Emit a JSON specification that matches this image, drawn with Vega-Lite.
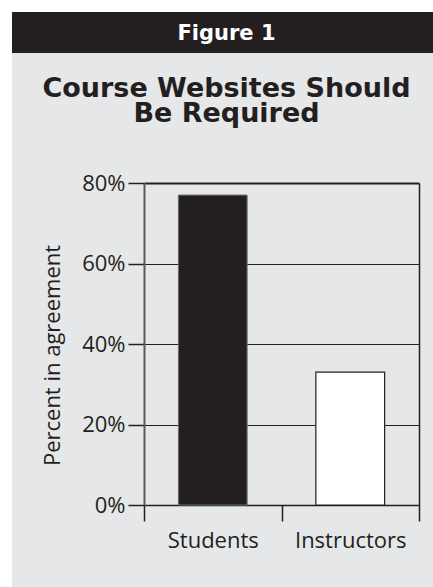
{
  "$schema": "https://vega.github.io/schema/vega-lite/v6.json",
  "background": "white",
  "padding": {"left": 12, "top": 12, "right": 0, "bottom": 0},
  "spacing": 0,
  "config": {
    "font": "Open Sans",
    "view": {"stroke": null},
    "concat": {"spacing": 0}
  },
  "vconcat": [
    {
      "width": 421,
      "height": 41,
      "view": {"fill": "#231f20", "stroke": null},
      "data": {"values": [{"heading": "Figure 1"}]},
      "mark": {"type": "text", "font": "DejaVu Sans", "fontWeight": "bold", "fontSize": 21, "color": "white", "dx": 4, "dy": 1},
      "encoding": {"text": {"field": "heading", "type": "nominal"}}
    },
    {
      "width": 421,
      "height": 534,
      "view": {"fill": "#e6e7e8", "stroke": null},
      "title": {
        "text": ["Course Websites Should", "Be Required"],
        "font": "DejaVu Sans",
        "fontWeight": "bold",
        "fontSize": 27,
        "lineHeight": 25,
        "color": "#231f20",
        "anchor": "middle",
        "frame": "group",
        "offset": 0,
        "dy": 75,
        "dx": 4
      },
      "data": {
        "values": [
          {"group": "Students", "agree": 77},
          {"group": "Instructors", "agree": 33}
        ]
      },
      "encoding": {
        "x": {
          "field": "group",
          "type": "nominal",
          "scale": {"domain": ["Students", "Instructors"], "range": [132, 407], "paddingInner": 0, "paddingOuter": 0},
          "axis": {
            "orient": "bottom",
            "offset": -82,
            "title": null,
            "labelAngle": 0,
            "tickBand": "extent",
            "tickSize": 16,
            "tickWidth": 1.5,
            "tickColor": "#231f20",
            "domainColor": "#231f20",
            "domainWidth": 1.5,
            "labelFontSize": 22,
            "labelColor": "#231f20",
            "labelPadding": 9
          }
        }
      },
      "layer": [
        {
          "transform": [{"filter": "datum.group === 'Students'"}],
          "mark": {"type": "bar", "width": {"band": 0.5}, "fill": "#231f20", "stroke": "#6d6e70", "strokeWidth": 1},
          "encoding": {
            "y": {
              "field": "agree",
              "type": "quantitative",
              "scale": {"domain": [0, 80], "range": [452, 130], "nice": false},
              "axis": {
                "orient": "left",
                "offset": -132,
                "values": [0, 20, 40, 60, 80],
                "labelExpr": "datum.value + '%'",
                "tickSize": 16,
                "tickWidth": 1.5,
                "tickColor": "#231f20",
                "domainColor": "#58595b",
                "domainWidth": 2,
                "grid": true,
                "gridColor": "#231f20",
                "gridWidth": {"condition": {"test": "datum.value === 80", "value": 2}, "value": 1.2},
                "labelFontSize": 22,
                "labelColor": "#231f20",
                "labelPadding": 3,
                "title": "Percent in agreement",
                "titleFontSize": 22,
                "titleFontWeight": "normal",
                "titleColor": "#231f20",
                "titlePadding": 17,
                "titleY": 302
              }
            }
          }
        },
        {
          "transform": [{"filter": "datum.group === 'Instructors'"}],
          "mark": {"type": "bar", "width": {"band": 0.5}, "fill": "white", "stroke": "#231f20", "strokeWidth": 1.2},
          "encoding": {
            "y": {
              "field": "agree",
              "type": "quantitative",
              "scale": {"domain": [0, 80], "range": [452, 130], "nice": false},
              "axis": {
                "orient": "right",
                "offset": -14,
                "domainColor": "#231f20",
                "domainWidth": 1.5,
                "ticks": false,
                "labels": false,
                "grid": false,
                "title": null
              }
            }
          }
        }
      ],
      "resolve": {"axis": {"y": "independent"}}
    }
  ]
}
